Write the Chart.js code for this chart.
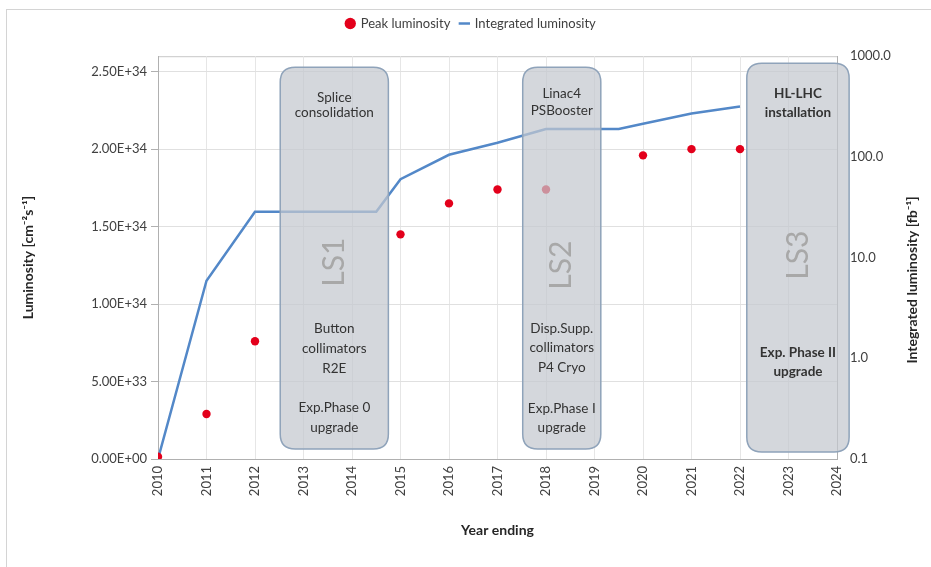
<!DOCTYPE html>
<html>
<head>
<meta charset="utf-8">
<script src="https://cdn.jsdelivr.net/npm/chart.js@4.4.0/dist/chart.umd.min.js"></script>
<style>
  html, body { margin: 0; padding: 0; background: #fff; }
  #wrap { width: 931px; height: 567px; position: relative; }
</style>
</head>
<body>
<div id="wrap"><canvas id="lumi" width="931" height="567"></canvas></div>
<script>
// peak luminosity (left axis, cm^-2 s^-1)
const peakYears = [2010, 2011, 2012, 2015, 2016, 2017, 2018, 2020, 2021, 2022];
const peakLumi = [1.5e32, 2.9e33, 7.6e33, 1.45e34, 1.65e34, 1.74e34, 1.74e34, 1.96e34, 2.0e34, 2.0e34];

// integrated luminosity (right log axis, fb^-1)
const intYears = [2010, 2011, 2012, 2014.5, 2015, 2016, 2017, 2018, 2019.5, 2020, 2021, 2022];
const intLumi = [0.1, 5.9, 28.5, 28.5, 60, 105, 138, 189, 189, 213, 270, 316];

const leftTicks = [0, 5e33, 1e34, 1.5e34, 2e34, 2.5e34];
const rightTicks = [0.1, 1, 10, 100, 1000];

// long shutdown boxes: x in years, y in left-axis units
const shutdowns = [
  { x0: 2012.52, x1: 2014.75, y0: 6.45e32, y1: 2.529e34, name: 'LS1', nameY: 195, bold: false,
    blocks: [[['Splice', 30], ['consolidation', 45]],
             [['Button', 261], ['collimators', 281], ['R2E', 301]],
             [['Exp.Phase 0', 340], ['upgrade', 360]]] },
  { x0: 2017.52, x1: 2019.13, y0: 6.45e32, y1: 2.529e34, name: 'LS2', nameY: 198, bold: false,
    blocks: [[['Linac4', 26], ['PSBooster', 43]],
             [['Disp.Supp.', 261], ['collimators', 280], ['P4 Cryo', 300]],
             [['Exp.Phase I', 341], ['upgrade', 360]]] },
  { x0: 2022.14, x1: 2024.25, y0: 4.5e32, y1: 2.555e34, name: 'LS3', nameY: 192, bold: true,
    blocks: [[['HL-LHC', 30], ['installation', 49]],
             [['Exp. Phase II', 289], ['upgrade', 308]]] }
];

const FONT = 'Lato, "Open Sans", sans-serif';

function sci(v) {
  if (v === 0) return '0.00E+00';
  const parts = v.toExponential(2).split('e');
  const n = parseInt(parts[1], 10);
  return parts[0] + 'E' + (n < 0 ? '-' : '+') + String(Math.abs(n)).padStart(2, '0');
}

function rrect(ctx, x, y, w, h, r) {
  ctx.beginPath();
  ctx.moveTo(x + r, y);
  ctx.lineTo(x + w - r, y);
  ctx.quadraticCurveTo(x + w, y, x + w, y + r);
  ctx.lineTo(x + w, y + h - r);
  ctx.quadraticCurveTo(x + w, y + h, x + w - r, y + h);
  ctx.lineTo(x + r, y + h);
  ctx.quadraticCurveTo(x, y + h, x, y + h - r);
  ctx.lineTo(x, y + r);
  ctx.quadraticCurveTo(x, y, x + r, y);
  ctx.closePath();
}

const frame = {
  id: 'frame',
  beforeDraw(chart) {
    const ctx = chart.ctx, a = chart.chartArea;
    ctx.save();
    ctx.strokeStyle = '#d4d4d4';
    ctx.lineWidth = 1;
    ctx.strokeRect(6.5, 9.5, 940, 600);
    ctx.strokeStyle = '#c8c8c8';
    ctx.strokeRect(a.left + 0.5, a.top + 0.5, a.right - a.left, a.bottom - a.top);
    ctx.restore();
  },
  afterDraw(chart) {
    // right axis title reads bottom-to-top like the left one
    const ctx = chart.ctx;
    ctx.save();
    ctx.translate(912, 280);
    ctx.rotate(-Math.PI / 2);
    ctx.fillStyle = '#262626';
    ctx.font = 'bold 14px ' + FONT;
    ctx.textAlign = 'center';
    ctx.textBaseline = 'middle';
    ctx.fillText('Integrated luminosity [fb\u207B\u00B9]', 0, 0);
    ctx.restore();
  }
};

const boxesPlugin = {
  id: 'boxes',
  afterDatasetsDraw(chart) {
    const ctx = chart.ctx, xs = chart.scales.x, ys = chart.scales.y;
    ctx.save();
    shutdowns.forEach(b => {
      const l = xs.getPixelForValue(b.x0), r = xs.getPixelForValue(b.x1);
      const t = ys.getPixelForValue(b.y1), btm = ys.getPixelForValue(b.y0);
      rrect(ctx, l, t, r - l, btm - t, 15);
      ctx.fillStyle = 'rgba(196,200,207,0.72)';
      ctx.fill();
      ctx.strokeStyle = '#8fa3ba';
      ctx.lineWidth = 1.5;
      ctx.stroke();
      const cx = (l + r) / 2;
      ctx.fillStyle = '#333333';
      ctx.textAlign = 'center';
      ctx.textBaseline = 'middle';
      ctx.font = (b.bold ? 'bold ' : '') + '13.5px ' + FONT;
      b.blocks.forEach(block => block.forEach(([txt, dy]) => ctx.fillText(txt, cx, t + dy)));
      ctx.save();
      ctx.translate(cx, t + b.nameY);
      ctx.rotate(-Math.PI / 2);
      ctx.fillStyle = '#a8a8a8';
      ctx.font = '30px ' + FONT;
      ctx.fillText(b.name, 0, 0);
      ctx.restore();
    });
    ctx.restore();
  }
};

new Chart(document.getElementById('lumi'), {
  type: 'scatter',
  data: {
    datasets: [{
      label: 'Peak luminosity',
      data: peakYears.map((x, i) => ({ x: x, y: peakLumi[i] })),
      yAxisID: 'y',
      pointStyle: 'circle',
      pointRadius: 4.2,
      backgroundColor: '#e3001b',
      borderColor: '#e3001b',
      borderWidth: 0,
      order: 1
    }, {
      label: 'Integrated luminosity',
      data: intYears.map((x, i) => ({ x: x, y: intLumi[i] })),
      yAxisID: 'y2',
      showLine: true,
      pointRadius: 0,
      borderColor: '#5388c8',
      backgroundColor: '#5388c8',
      borderWidth: 2.5,
      pointStyle: 'line',
      order: 2
    }]
  },
  options: {
    responsive: false,
    animation: false,
    layout: { padding: { left: 18, right: 7, top: 7, bottom: 28 } },
    plugins: {
      tooltip: { enabled: false },
      subtitle: {
        display: true,
        text: '',
        weight: 500,
        font: { size: 1 },
        padding: { top: 0, bottom: 15 }
      },
      legend: {
        position: 'top',
        labels: {
          usePointStyle: true,
          boxWidth: 8,
          boxHeight: 8,
          padding: 10,
          color: '#404040',
          font: { family: FONT, size: 13 },
          generateLabels(chart) {
            return chart.data.datasets.map((d, i) => ({
              text: d.label,
              fillStyle: d.backgroundColor,
              strokeStyle: d.borderColor,
              lineWidth: i === 1 ? 2.5 : 0,
              pointStyle: i === 0 ? 'circle' : 'line',
              datasetIndex: i,
              fontColor: '#404040'
            }));
          }
        }
      }
    },
    scales: {
      x: {
        type: 'linear',
        min: 2010,
        max: 2024,
        afterFit(s) { s.height = 80; },
        ticks: {
          stepSize: 1,
          minRotation: 90,
          maxRotation: 90,
          padding: 7,
          color: '#404040',
          font: { family: FONT, size: 13 },
          callback: v => String(v)
        },
        grid: { color: '#e6e6e6', drawTicks: false },
        border: { color: '#b0b0b0' },
        title: {
          display: true,
          text: 'Year ending',
          color: '#262626',
          font: { family: FONT, size: 14, weight: 'bold' },
          padding: { top: 4, bottom: 0 }
        }
      },
      y: {
        position: 'left',
        min: 0,
        max: 2.6e34,
        afterFit(s) { s.width = 140; },
        afterBuildTicks(s) { s.ticks = leftTicks.map(v => ({ value: v })); },
        ticks: {
          padding: 4,
          color: '#404040',
          font: { family: FONT, size: 13 },
          callback: v => sci(v)
        },
        grid: { color: '#e0e0e0', tickLength: 7, tickColor: '#b0b0b0' },
        border: { color: '#b0b0b0' },
        title: {
          display: true,
          text: 'Luminosity [cm\u207B\u00B2s\u207B\u00B9]',
          color: '#262626',
          font: { family: FONT, size: 14, weight: 'bold' },
          padding: 2
        }
      },
      y2: {
        type: 'logarithmic',
        position: 'right',
        min: 0.1,
        max: 1000,
        afterFit(s) { s.width = 87; },
        afterBuildTicks(s) { s.ticks = rightTicks.map(v => ({ value: v })); },
        ticks: {
          padding: 13,
          color: '#404040',
          font: { family: FONT, size: 13 },
          callback: v => Number(v).toFixed(1)
        },
        grid: { drawOnChartArea: false, drawTicks: false },
        border: { color: '#b0b0b0' },
        title: { display: false }
      }
    }
  },
  plugins: [frame, boxesPlugin]
});
</script>
</body>
</html>
